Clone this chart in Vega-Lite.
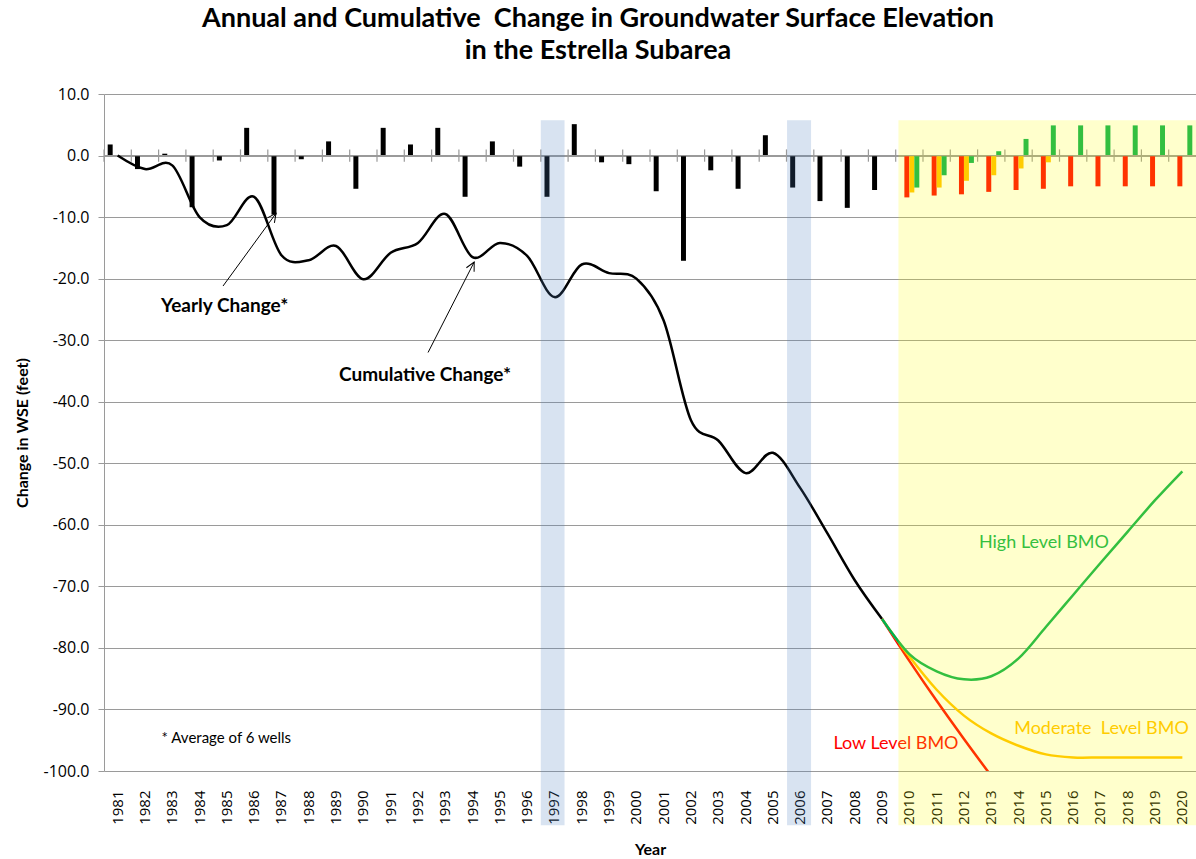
{
  "$schema": "https://vega.github.io/schema/vega-lite/v6.json",
  "width": 1092,
  "height": 677,
  "autosize": {"type": "none"},
  "padding": {"left": 104, "top": 94, "right": 0, "bottom": 88},
  "title": {
    "text": ["Annual and Cumulative \u00a0Change in Groundwater Surface Elevation", "in the Estrella Subarea"],
    "font": "Lato",
    "fontSize": 27,
    "fontWeight": "bold",
    "color": "#000000",
    "anchor": "middle",
    "dx": -52,
    "offset": 21,
    "lineHeight": 32
  },
  "config": {
    "view": {"stroke": null},
    "font": "Lato",
    "axisY": {
      "grid": true,
      "gridColor": "#9a9a9a",
      "gridWidth": 1,
      "domainColor": "#9a9a9a",
      "tickColor": "#9a9a9a",
      "tickSize": 6,
      "labelFont": "Open Sans",
      "labelFontSize": 16,
      "labelColor": "#000000",
      "labelPadding": 9,
      "labelExpr": "replace(format(datum.value, '.1f'), '\u2212', '-')",
      "titleFont": "Lato",
      "titleFontSize": 16,
      "titleFontWeight": "bold",
      "titleColor": "#000000",
      "titlePadding": 13
    },
    "axisX": {
      "grid": false,
      "domain": false,
      "ticks": false,
      "labelAngle": 270,
      "labelAlign": "right",
      "labelBaseline": "middle",
      "labelPadding": 19,
      "labelFont": "Open Sans",
      "labelFontSize": 15,
      "labelColor": "#000000",
      "titleFont": "Lato",
      "titleFontSize": 16,
      "titleFontWeight": "bold",
      "titleColor": "#000000",
      "titlePadding": 17
    }
  },
  "datasets": {
    "annual": [
      {"year": 1981, "change": 1.8, "series": "Observed"},
      {"year": 1982, "change": -2.2, "series": "Observed"},
      {"year": 1983, "change": 0.3, "series": "Observed"},
      {"year": 1984, "change": -8.4, "series": "Observed"},
      {"year": 1985, "change": -0.8, "series": "Observed"},
      {"year": 1986, "change": 4.5, "series": "Observed"},
      {"year": 1987, "change": -9.6, "series": "Observed"},
      {"year": 1988, "change": -0.6, "series": "Observed"},
      {"year": 1989, "change": 2.3, "series": "Observed"},
      {"year": 1990, "change": -5.4, "series": "Observed"},
      {"year": 1991, "change": 4.5, "series": "Observed"},
      {"year": 1992, "change": 1.8, "series": "Observed"},
      {"year": 1993, "change": 4.5, "series": "Observed"},
      {"year": 1994, "change": -6.7, "series": "Observed"},
      {"year": 1995, "change": 2.3, "series": "Observed"},
      {"year": 1996, "change": -1.8, "series": "Observed"},
      {"year": 1997, "change": -6.7, "series": "Observed"},
      {"year": 1998, "change": 5.1, "series": "Observed"},
      {"year": 1999, "change": -1.1, "series": "Observed"},
      {"year": 2000, "change": -1.4, "series": "Observed"},
      {"year": 2001, "change": -5.8, "series": "Observed"},
      {"year": 2002, "change": -17.1, "series": "Observed"},
      {"year": 2003, "change": -2.4, "series": "Observed"},
      {"year": 2004, "change": -5.4, "series": "Observed"},
      {"year": 2005, "change": 3.3, "series": "Observed"},
      {"year": 2006, "change": -5.2, "series": "Observed"},
      {"year": 2007, "change": -7.4, "series": "Observed"},
      {"year": 2008, "change": -8.5, "series": "Observed"},
      {"year": 2009, "change": -5.6, "series": "Observed"},
      {"year": 2010, "change": -6.8, "series": "Low Level BMO"},
      {"year": 2011, "change": -6.5, "series": "Low Level BMO"},
      {"year": 2012, "change": -6.3, "series": "Low Level BMO"},
      {"year": 2013, "change": -5.9, "series": "Low Level BMO"},
      {"year": 2014, "change": -5.6, "series": "Low Level BMO"},
      {"year": 2015, "change": -5.4, "series": "Low Level BMO"},
      {"year": 2016, "change": -5.0, "series": "Low Level BMO"},
      {"year": 2017, "change": -5.0, "series": "Low Level BMO"},
      {"year": 2018, "change": -5.0, "series": "Low Level BMO"},
      {"year": 2019, "change": -5.0, "series": "Low Level BMO"},
      {"year": 2020, "change": -5.0, "series": "Low Level BMO"},
      {"year": 2010, "change": -6.0, "series": "Moderate Level BMO"},
      {"year": 2011, "change": -5.2, "series": "Moderate Level BMO"},
      {"year": 2012, "change": -4.1, "series": "Moderate Level BMO"},
      {"year": 2013, "change": -3.2, "series": "Moderate Level BMO"},
      {"year": 2014, "change": -2.1, "series": "Moderate Level BMO"},
      {"year": 2015, "change": -1.1, "series": "Moderate Level BMO"},
      {"year": 2010, "change": -5.2, "series": "High Level BMO"},
      {"year": 2011, "change": -3.2, "series": "High Level BMO"},
      {"year": 2012, "change": -1.2, "series": "High Level BMO"},
      {"year": 2013, "change": 0.7, "series": "High Level BMO"},
      {"year": 2014, "change": 2.7, "series": "High Level BMO"},
      {"year": 2015, "change": 4.9, "series": "High Level BMO"},
      {"year": 2016, "change": 4.9, "series": "High Level BMO"},
      {"year": 2017, "change": 4.9, "series": "High Level BMO"},
      {"year": 2018, "change": 4.9, "series": "High Level BMO"},
      {"year": 2019, "change": 4.9, "series": "High Level BMO"},
      {"year": 2020, "change": 4.9, "series": "High Level BMO"}
    ],
    "cumulative": [
      {"year": 1981, "value": 0.0, "series": "Observed"},
      {"year": 1982, "value": -2.2, "series": "Observed"},
      {"year": 1983, "value": -1.6, "series": "Observed"},
      {"year": 1984, "value": -10.0, "series": "Observed"},
      {"year": 1985, "value": -11.3, "series": "Observed"},
      {"year": 1986, "value": -6.7, "series": "Observed"},
      {"year": 1987, "value": -16.2, "series": "Observed"},
      {"year": 1988, "value": -17.0, "series": "Observed"},
      {"year": 1989, "value": -14.7, "series": "Observed"},
      {"year": 1990, "value": -20.1, "series": "Observed"},
      {"year": 1991, "value": -15.8, "series": "Observed"},
      {"year": 1992, "value": -14.2, "series": "Observed"},
      {"year": 1993, "value": -9.5, "series": "Observed"},
      {"year": 1994, "value": -16.5, "series": "Observed"},
      {"year": 1995, "value": -14.2, "series": "Observed"},
      {"year": 1996, "value": -16.3, "series": "Observed"},
      {"year": 1997, "value": -23.0, "series": "Observed"},
      {"year": 1998, "value": -17.7, "series": "Observed"},
      {"year": 1999, "value": -19.1, "series": "Observed"},
      {"year": 2000, "value": -20.0, "series": "Observed"},
      {"year": 2001, "value": -26.8, "series": "Observed"},
      {"year": 2002, "value": -43.0, "series": "Observed"},
      {"year": 2003, "value": -46.3, "series": "Observed"},
      {"year": 2004, "value": -51.6, "series": "Observed"},
      {"year": 2005, "value": -48.3, "series": "Observed"},
      {"year": 2006, "value": -54.0, "series": "Observed"},
      {"year": 2007, "value": -61.4, "series": "Observed"},
      {"year": 2008, "value": -69.0, "series": "Observed"},
      {"year": 2009, "value": -75.3, "series": "Observed"},
      {"year": 2009, "value": -75.3, "series": "Low Level BMO"},
      {"year": 2010, "value": -82.1, "series": "Low Level BMO"},
      {"year": 2011, "value": -88.6, "series": "Low Level BMO"},
      {"year": 2012, "value": -94.8, "series": "Low Level BMO"},
      {"year": 2013, "value": -100.8, "series": "Low Level BMO"},
      {"year": 2009, "value": -75.3, "series": "Moderate Level BMO"},
      {"year": 2010, "value": -81.4, "series": "Moderate Level BMO"},
      {"year": 2011, "value": -86.8, "series": "Moderate Level BMO"},
      {"year": 2012, "value": -91.0, "series": "Moderate Level BMO"},
      {"year": 2013, "value": -93.9, "series": "Moderate Level BMO"},
      {"year": 2014, "value": -95.9, "series": "Moderate Level BMO"},
      {"year": 2015, "value": -97.3, "series": "Moderate Level BMO"},
      {"year": 2016, "value": -97.8, "series": "Moderate Level BMO"},
      {"year": 2017, "value": -97.8, "series": "Moderate Level BMO"},
      {"year": 2018, "value": -97.8, "series": "Moderate Level BMO"},
      {"year": 2019, "value": -97.8, "series": "Moderate Level BMO"},
      {"year": 2020, "value": -97.8, "series": "Moderate Level BMO"},
      {"year": 2009, "value": -75.3, "series": "High Level BMO"},
      {"year": 2010, "value": -81.0, "series": "High Level BMO"},
      {"year": 2011, "value": -83.8, "series": "High Level BMO"},
      {"year": 2012, "value": -85.1, "series": "High Level BMO"},
      {"year": 2013, "value": -84.6, "series": "High Level BMO"},
      {"year": 2014, "value": -81.7, "series": "High Level BMO"},
      {"year": 2015, "value": -76.6, "series": "High Level BMO"},
      {"year": 2016, "value": -71.4, "series": "High Level BMO"},
      {"year": 2017, "value": -66.2, "series": "High Level BMO"},
      {"year": 2018, "value": -61.1, "series": "High Level BMO"},
      {"year": 2019, "value": -56.0, "series": "High Level BMO"},
      {"year": 2020, "value": -51.3, "series": "High Level BMO"}
    ],
    "callouts": [
      {"label": "Yearly Change*", "x": 1984.92, "y": -24.5, "tailX": 1984.86, "tailY": -21.2, "headX": 1986.8, "headY": -9.4},
      {"label": "Cumulative Change*", "x": 1992.26, "y": -35.7, "tailX": 1992.37, "tailY": -32.0, "headX": 1994.06, "headY": -17.3}
    ],
    "scenarioLabels": [
      {"label": "High Level BMO", "series": "High Level BMO", "x": 2014.93, "y": -63.0},
      {"label": "Moderate \u00a0Level BMO", "series": "Moderate Level BMO", "x": 2017.04, "y": -93.2},
      {"label": "Low Level BMO", "series": "Low Level BMO", "x": 2009.51, "y": -95.6}
    ],
    "footnote": [
      {"label": "* Average of 6 wells", "x": 1982.61, "y": -94.6}
    ],
    "shading": [
      {"period": "1997", "start": 1996.5, "end": 1997.37, "kind": "wet"},
      {"period": "2006", "start": 2005.52, "end": 2006.4, "kind": "wet"},
      {"period": "Projection", "start": 2009.6, "end": 2020.5, "kind": "projection"}
    ]
  },
  "layer": [
    {
      "layer": [
        {
          "data": {"name": "annual"},
          "mark": {"type": "bar"},
          "encoding": {
            "x": {"field": "year", "type": "ordinal", "title": "Year", "scale": {"paddingInner": 0, "paddingOuter": 0}},
            "xOffset": {"field": "series", "type": "nominal", "scale": {"domain": ["Observed", "Low Level BMO", "Moderate Level BMO", "High Level BMO"], "paddingInner": 0, "paddingOuter": 0.74}},
            "y": {"field": "change", "type": "quantitative", "title": "Change in WSE (feet)", "axis": {"values": [10, 0, -10, -20, -30, -40, -50, -60, -70, -80, -90, -100]}, "scale": {"domain": [-100, 10], "nice": false, "zero": false}},
            "color": {"field": "series", "type": "nominal", "legend": null, "scale": {"domain": ["Observed", "Low Level BMO", "Moderate Level BMO", "High Level BMO"], "range": ["#000000", "#FF0000", "#FFC000", "#00B050"]}}
          }
        },
        {
          "data": {"name": "annual"},
          "transform": [{"aggregate": [{"op": "count", "as": "n"}]}],
          "mark": {"type": "rule", "color": "#9a9a9a", "strokeWidth": 1.2},
          "encoding": {"y": {"datum": 0}}
        },
        {
          "data": {"name": "annual"},
          "transform": [{"aggregate": [{"op": "count", "as": "n"}], "groupby": ["year"]}],
          "mark": {"type": "rule", "color": "#9a9a9a", "strokeWidth": 1.2},
          "encoding": {
            "x": {"field": "year", "type": "ordinal", "bandPosition": 0, "title": "Year", "scale": {"paddingInner": 0, "paddingOuter": 0}},
            "y": {"datum": 1},
            "y2": {"datum": -1}
          }
        }
      ]
    },
    {
      "layer": [
        {
          "data": {"name": "cumulative"},
          "mark": {"type": "line", "interpolate": "cardinal", "tension": 0, "strokeWidth": 2.5, "clip": true},
          "encoding": {
            "x": {"field": "year", "type": "quantitative", "axis": null, "scale": {"domain": [1980.5, 2020.5], "nice": false, "zero": false}},
            "y": {"field": "value", "type": "quantitative", "title": "Change in WSE (feet)", "axis": {"values": [10, 0, -10, -20, -30, -40, -50, -60, -70, -80, -90, -100]}, "scale": {"domain": [-100, 10], "nice": false, "zero": false}},
            "color": {"field": "series", "type": "nominal", "legend": null},
            "detail": {"field": "series"}
          }
        },
        {
          "data": {"name": "callouts"},
          "mark": {"type": "rule", "color": "#000000", "strokeWidth": 1},
          "encoding": {
            "x": {"field": "tailX", "type": "quantitative", "axis": null, "scale": {"domain": [1980.5, 2020.5], "nice": false, "zero": false}},
            "x2": {"field": "headX"},
            "y": {"field": "tailY", "type": "quantitative", "title": "Change in WSE (feet)", "axis": {"values": [10, 0, -10, -20, -30, -40, -50, -60, -70, -80, -90, -100]}, "scale": {"domain": [-100, 10], "nice": false, "zero": false}},
            "y2": {"field": "headY"}
          }
        },
        {
          "data": {"name": "callouts"},
          "transform": [{"filter": "datum.label === 'Yearly Change*'"}],
          "mark": {"type": "point", "shape": "M -0.5 1 L 0 0 L 0.5 1", "filled": false, "stroke": "#000000", "strokeWidth": 1, "size": 300, "angle": 36, "opacity": 1},
          "encoding": {
            "x": {"field": "headX", "type": "quantitative", "axis": null, "scale": {"domain": [1980.5, 2020.5], "nice": false, "zero": false}},
            "y": {"field": "headY", "type": "quantitative", "title": "Change in WSE (feet)", "axis": {"values": [10, 0, -10, -20, -30, -40, -50, -60, -70, -80, -90, -100]}, "scale": {"domain": [-100, 10], "nice": false, "zero": false}}
          }
        },
        {
          "data": {"name": "callouts"},
          "transform": [{"filter": "datum.label === 'Cumulative Change*'"}],
          "mark": {"type": "point", "shape": "M -0.5 1 L 0 0 L 0.5 1", "filled": false, "stroke": "#000000", "strokeWidth": 1, "size": 300, "angle": 27, "opacity": 1},
          "encoding": {
            "x": {"field": "headX", "type": "quantitative", "axis": null, "scale": {"domain": [1980.5, 2020.5], "nice": false, "zero": false}},
            "y": {"field": "headY", "type": "quantitative", "title": "Change in WSE (feet)", "axis": {"values": [10, 0, -10, -20, -30, -40, -50, -60, -70, -80, -90, -100]}, "scale": {"domain": [-100, 10], "nice": false, "zero": false}}
          }
        },
        {
          "data": {"name": "callouts"},
          "mark": {"type": "text", "font": "Lato", "fontSize": 19, "fontWeight": "bold", "color": "#000000", "align": "center", "baseline": "middle"},
          "encoding": {
            "x": {"field": "x", "type": "quantitative", "axis": null, "scale": {"domain": [1980.5, 2020.5], "nice": false, "zero": false}},
            "y": {"field": "y", "type": "quantitative", "title": "Change in WSE (feet)", "axis": {"values": [10, 0, -10, -20, -30, -40, -50, -60, -70, -80, -90, -100]}, "scale": {"domain": [-100, 10], "nice": false, "zero": false}},
            "text": {"field": "label"}
          }
        },
        {
          "data": {"name": "scenarioLabels"},
          "mark": {"type": "text", "font": "Lato", "fontSize": 18, "align": "center", "baseline": "middle"},
          "encoding": {
            "x": {"field": "x", "type": "quantitative", "axis": null, "scale": {"domain": [1980.5, 2020.5], "nice": false, "zero": false}},
            "y": {"field": "y", "type": "quantitative", "title": "Change in WSE (feet)", "axis": {"values": [10, 0, -10, -20, -30, -40, -50, -60, -70, -80, -90, -100]}, "scale": {"domain": [-100, 10], "nice": false, "zero": false}},
            "text": {"field": "label"},
            "color": {"field": "series", "type": "nominal", "legend": null}
          }
        },
        {
          "data": {"name": "footnote"},
          "mark": {"type": "text", "font": "Lato", "fontSize": 15, "color": "#000000", "align": "left", "baseline": "middle"},
          "encoding": {
            "x": {"field": "x", "type": "quantitative", "axis": null, "scale": {"domain": [1980.5, 2020.5], "nice": false, "zero": false}},
            "y": {"field": "y", "type": "quantitative", "title": "Change in WSE (feet)", "axis": {"values": [10, 0, -10, -20, -30, -40, -50, -60, -70, -80, -90, -100]}, "scale": {"domain": [-100, 10], "nice": false, "zero": false}},
            "text": {"field": "label"}
          }
        },
        {
          "data": {"name": "shading"},
          "mark": {"type": "rect"},
          "encoding": {
            "x": {"field": "start", "type": "quantitative", "axis": null, "scale": {"domain": [1980.5, 2020.5], "nice": false, "zero": false}},
            "x2": {"field": "end"},
            "y": {"datum": 5.75},
            "y2": {"datum": -108.8},
            "fill": {"field": "kind", "type": "nominal", "legend": null, "scale": {"domain": ["wet", "projection"], "range": ["#4F81BD", "#FFFF00"]}},
            "opacity": {"field": "kind", "type": "nominal", "legend": null, "scale": {"domain": ["wet", "projection"], "range": [0.22, 0.2]}}
          }
        }
      ]
    }
  ],
  "resolve": {"scale": {"x": "independent"}}
}
